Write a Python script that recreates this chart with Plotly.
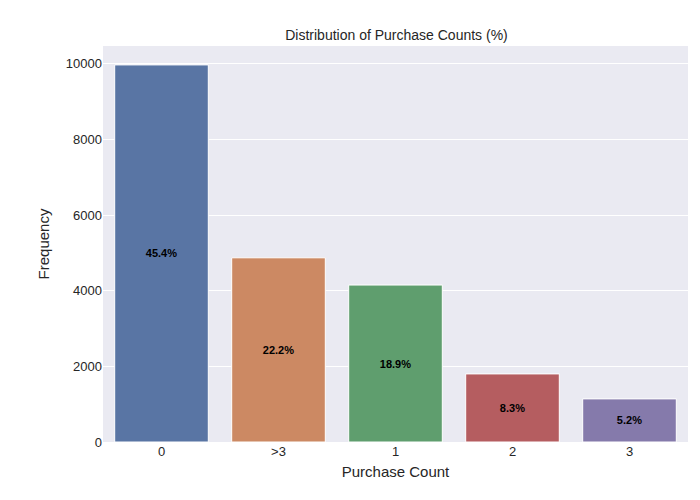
import plotly.graph_objects as go

categories = ["0", ">3", "1", "2", "3"]
counts = [9970, 4870, 4150, 1800, 1140]
percent_labels = ["45.4%", "22.2%", "18.9%", "8.3%", "5.2%"]
colors = ["#5975A4", "#CC8963", "#5F9E6E", "#B55D60", "#857AAB"]

fig = go.Figure()
fig.add_trace(go.Bar(
    x=categories, y=counts,
    marker=dict(color=colors, line=dict(color="white", width=1)),
    width=0.8,
    text=percent_labels, textposition="inside", insidetextanchor="middle",
    textfont=dict(color="black", size=11, family="Liberation Sans"),
    texttemplate="<b>%{text}</b>",
))

fig.update_layout(
    width=700, height=500,
    title=dict(text="Distribution of Purchase Counts (%)", x=0.555, xanchor="center", y=0.955,
               font=dict(size=14, color="#262626")),
    font=dict(family="Liberation Sans", color="#262626", size=13),
    paper_bgcolor="white", plot_bgcolor="#EAEAF2",
    margin=dict(l=95, r=20, t=38, b=66, autoexpand=False),
    xaxis=dict(title=dict(text="Purchase Count", font=dict(size=15), standoff=8), showgrid=False,
               ticks="", range=[-0.5, 4.5], automargin=False),
    yaxis=dict(title=dict(text="Frequency", font=dict(size=15), standoff=12), range=[0, 10470],
               dtick=2000, tickformat="d", gridcolor="white", gridwidth=1, zeroline=False,
               ticks="", automargin=False),
    showlegend=False, bargap=0.2,
)

fig.write_html("out.html")
